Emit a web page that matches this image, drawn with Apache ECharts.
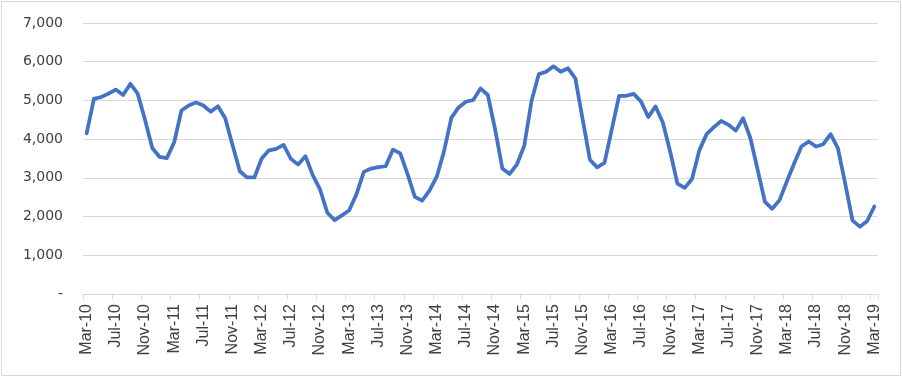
<!DOCTYPE html>
<html>
<head>
<meta charset="utf-8">
<script src="https://cdn.jsdelivr.net/npm/echarts@6/dist/echarts.min.js"></script>
<style>
html,body{margin:0;padding:0;background:#fff;}
#chart{width:902px;height:377px;}
</style>
</head>
<body>
<div id="chart"></div>
<script>
var categories = [
"Mar-10","Apr-10","May-10","Jun-10","Jul-10","Aug-10","Sep-10","Oct-10","Nov-10","Dec-10",
"Jan-11","Feb-11","Mar-11","Apr-11","May-11","Jun-11","Jul-11","Aug-11","Sep-11","Oct-11","Nov-11","Dec-11",
"Jan-12","Feb-12","Mar-12","Apr-12","May-12","Jun-12","Jul-12","Aug-12","Sep-12","Oct-12","Nov-12","Dec-12",
"Jan-13","Feb-13","Mar-13","Apr-13","May-13","Jun-13","Jul-13","Aug-13","Sep-13","Oct-13","Nov-13","Dec-13",
"Jan-14","Feb-14","Mar-14","Apr-14","May-14","Jun-14","Jul-14","Aug-14","Sep-14","Oct-14","Nov-14","Dec-14",
"Jan-15","Feb-15","Mar-15","Apr-15","May-15","Jun-15","Jul-15","Aug-15","Sep-15","Oct-15","Nov-15","Dec-15",
"Jan-16","Feb-16","Mar-16","Apr-16","May-16","Jun-16","Jul-16","Aug-16","Sep-16","Oct-16","Nov-16","Dec-16",
"Jan-17","Feb-17","Mar-17","Apr-17","May-17","Jun-17","Jul-17","Aug-17","Sep-17","Oct-17","Nov-17","Dec-17",
"Jan-18","Feb-18","Mar-18","Apr-18","May-18","Jun-18","Jul-18","Aug-18","Sep-18","Oct-18","Nov-18","Dec-18",
"Jan-19","Feb-19","Mar-19"
];

var values = [
4150,5040,5090,5175,5280,5140,5430,5175,4500,3770,
3540,3510,3920,4740,4870,4950,4870,4710,4850,4540,3850,3170,
3010,3010,3500,3710,3750,3850,3490,3345,3560,3070,2700,2100,
1910,2030,2165,2580,3155,3240,3275,3300,3730,3630,3095,2510,
2410,2670,3030,3690,4550,4820,4965,5010,5310,5140,4260,3240,
3100,3350,3830,4990,5680,5740,5880,5740,5830,5570,4520,3470,
3270,3390,4250,5120,5120,5170,4975,4570,4845,4430,3680,2850,
2740,2970,3710,4130,4310,4470,4370,4220,4540,4030,3210,2380,
2200,2425,2905,3370,3810,3940,3810,3870,4130,3770,2860,1900,
1740,1880,2260
];

var yMin = 0, yMax = 7000, yStep = 1000;

var chart = echarts.init(document.getElementById('chart'), null, {renderer:'canvas'});
chart.setOption({
  animation:false,
  backgroundColor:'#ffffff',
  graphic:[{
    type:'rect', silent:true, z:-10,
    shape:{x:1.5,y:1.5,width:899,height:374},
    style:{fill:'none',stroke:'#d9d9d9',lineWidth:1}
  }],
  grid:{left:83,right:24,top:23,bottom:83,containLabel:false},
  xAxis:{
    type:'category',
    data:categories,
    boundaryGap:true,
    axisLine:{show:true,lineStyle:{color:'#d9d9d9',width:1}},
    axisTick:{show:true,interval:3,length:5,lineStyle:{color:'#d9d9d9'}},
    axisLabel:{
      interval:3, rotate:90, margin:10,
      fontFamily:'Liberation Sans', fontSize:16, color:'#404040'
    },
    splitLine:{show:false}
  },
  yAxis:{
    type:'value', min:yMin, max:yMax, interval:yStep,
    axisLine:{show:false}, axisTick:{show:false},
    axisLabel:{
      margin:20, fontFamily:'DejaVu Sans', fontSize:14, color:'#404040',
      formatter:function(v){ return v===0 ? '-' : v.toLocaleString('en-US'); }
    },
    splitLine:{show:true,lineStyle:{color:'#d9d9d9',width:1}}
  },
  series:[{
    type:'line',
    data:values,
    showSymbol:false,
    symbol:'none',
    lineStyle:{color:'#4472C4',width:3.75,join:'round',cap:'round'},
    itemStyle:{color:'#4472C4'}
  }]
});
</script>
</body>
</html>
